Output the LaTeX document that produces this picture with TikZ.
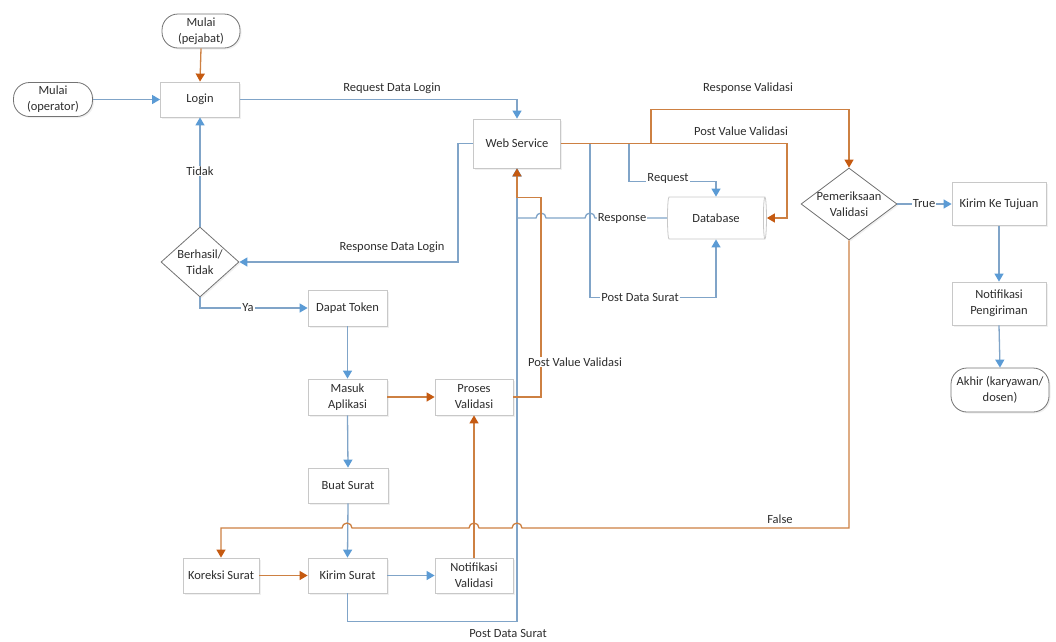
\documentclass[tikz,border=0pt]{standalone}
\usepackage{fontspec}
\setmainfont{Carlito}
\usetikzlibrary{arrows.meta,shapes.geometric,shadows,calc}

\definecolor{lnblue}{RGB}{128,164,200}
\definecolor{tipblue}{RGB}{91,155,213}
\definecolor{lnorange}{RGB}{205,128,66}
\definecolor{tiporange}{RGB}{197,90,17}
\definecolor{boxline}{RGB}{200,200,200}
\definecolor{termline}{RGB}{115,115,115}
\definecolor{txt}{RGB}{45,45,45}

\begin{document}
\begin{tikzpicture}[x=1pt,y=-1pt,
  font=\fontsize{12.5}{16}\selectfont, text=txt,
  shade/.style={drop shadow={shadow xshift=1.5pt,shadow yshift=-1.5pt,opacity=0.12}},
  box/.style={rectangle, draw=boxline, fill=white, line width=0.8pt, inner sep=2pt,
    align=center, minimum width=79pt, minimum height=36pt, shade},
  pill/.style={rectangle, rounded corners=16pt, draw=termline, fill=white, line width=0.8pt,
    inner sep=2pt, align=center, minimum width=79pt, minimum height=34pt, shade},
  dia/.style={diamond, draw=termline, fill=white, line width=0.8pt, inner sep=0pt, shade},
  dbase/.style={cylinder, shape border rotate=0, aspect=0.35, draw=boxline, line width=0.8pt,
    fill=white, minimum width=42pt, minimum height=99pt, inner sep=0pt},
  lab/.style={fill=white, inner sep=1pt},
  bl/.style={draw=lnblue, line width=1.3pt, -{Triangle[length=8pt,width=9pt,color=tipblue]}},
  orr/.style={draw=lnorange, line width=1.3pt, -{Triangle[length=8pt,width=9pt,color=tiporange]}}
]
\useasboundingbox (0,0) rectangle (1056,641);

% terminals
\node[pill, minimum width=78pt] (pej) at (201,31) {Mulai\\(pejabat)};
\node[pill] (ope) at (53,99.5) {Mulai\\(operator)};
\node[pill, minimum width=98pt, minimum height=44pt] (akh) at (1000,390) {Akhir (karyawan/\\dosen)};

% process boxes
\node[box, minimum height=35pt] (login) at (200,99.5) {Login};
\node[box, minimum width=87pt, minimum height=49pt] (ws) at (517,143.5) {Web Service};
\node[box] (dt) at (347.5,308) {Dapat Token};
\node[box] (ma) at (347.5,397) {Masuk\\Aplikasi};
\node[box, minimum width=78pt] (pv) at (474,397) {Proses\\Validasi};
\node[box, minimum width=80pt, minimum height=35pt] (bs) at (348,485.5) {Buat Surat};
\node[box, minimum width=76pt, minimum height=35pt] (ks) at (221,575.5) {Koreksi Surat};
\node[box, minimum height=35pt] (kis) at (347.5,575.5) {Kirim Surat};
\node[box, minimum width=78pt, minimum height=35pt] (nv) at (474,575.5) {Notifikasi\\Validasi};
\node[box, minimum width=94pt, minimum height=43pt] (kkt) at (999,204) {Kirim Ke Tujuan};
\node[box, minimum width=94pt, minimum height=43pt] (npg) at (999,303.5) {Notifikasi\\Pengiriman};

% database
\node[dbase] (db) at (716,218) {Database};

% decisions
\node[dia, minimum width=78pt, minimum height=70pt] (bt) at (200,262) {};
\node[align=center] (bttext) at (bt) {Berhasil/\\Tidak};
\node[dia, minimum width=96pt, minimum height=72pt] (pem) at (849,204) {};
\node[align=center] (pemtext) at (pem) {Pemeriksaan\\Validasi};

% ---- blue connectors
\draw[bl] (ope.east) -- (login.west);
\draw[bl] (login.east) -| (ws.north);
\draw[bl] (ws.west) -- ++(-15,0) |- (bt.east);
\draw[bl] (bt.north) -- (login.south);
\draw[bl] (bt.south) |- (dt.west);
\draw[bl] (dt.south) -- (ma.north);
\draw[bl] (ma.south) -- (bs.north);
\draw[bl] (bs.south) -- (kis.north);
\draw[bl] (kis.east) -- (nv.west);
\draw[bl] (kis.south) -- ++(0,28) -| (ws.south);
\draw[bl] (db.west) -- (595,218) arc[start angle=0,end angle=-180,radius=5]
  -- (546,218) arc[start angle=0,end angle=-180,radius=5]
  -- (ws.south |- 0,218) -- (ws.south);
\draw[bl] (ws.east) -- ++(29,0) |- ($(db.south)+(0,58)$) -- (db.south);
\draw[bl] (ws.east) -- ++(68,0) |- ($(db.north)+(0,-15)$) -- (db.north);
\draw[bl] (pem.east) -- (kkt.west);
\draw[bl] (kkt.south) -- (npg.north);
\draw[bl] (npg.south) -- (akh.north);

% ---- orange connectors
\draw[orr] (pej.south) -- (login.north);
\draw[orr] (ma.east) -- (pv.west);
\draw[orr] (ks.east) -- (kis.west);
\draw[orr] (nv.north) -- (pv.south);
\draw[orr] (pv.east) -| ($(ws.south)+(24,29)$) -- ($(ws.south)+(0,29)$) -- (ws.south);
\draw[orr] (ws.east) -- ++(90,0) |- ($(pem.north)+(0,-58)$) -- (pem.north);
\draw[orr] (ws.east) -- ++(226,0) |- (db.east);
\draw[orr] (pem.south) -- (pem.south |- 0,528) -- (522,528)
  arc[start angle=0,end angle=-180,radius=5] -- (479,528)
  arc[start angle=0,end angle=-180,radius=5] -- (352,528)
  arc[start angle=0,end angle=-180,radius=5] -- (ks.north |- 0,528) -- (ks.north);

% ---- connector labels
\node (lrdl) at (392,88) {Request Data Login};
\node (lrsdl) at (392,247) {Response Data Login};
\node[lab] (ltdk) at (200,171) {Tidak};
\node[lab] (lya) at (248,308) {Ya};
\node[lab] (lreq) at (668,178) {Request};
\node[lab] (lresp) at (622,218) {Response};
\node[lab] (lpds1) at (640,297) {Post Data Surat};
\node (lrv) at (748,88) {Response Validasi};
\node (lpvv1) at (741,131) {Post Value Validasi};
\node[lab] (lpvv2) at (575,362) {Post Value Validasi};
\node[lab] (ltrue) at (924,204) {True};
\node (lfalse) at (780,519) {False};
\node (lpds2) at (508,633) {Post Data Surat};
\end{tikzpicture}
\end{document}
